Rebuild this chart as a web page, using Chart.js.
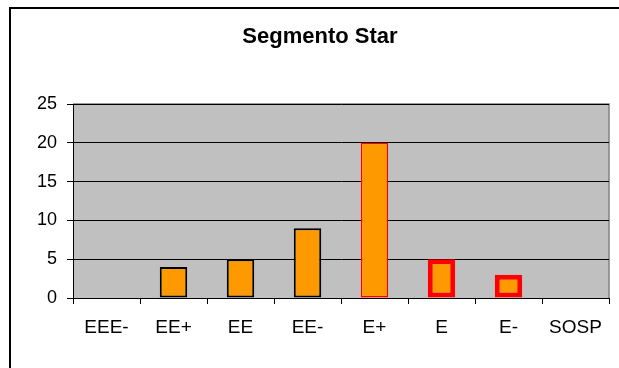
<!DOCTYPE html>
<html>
<head>
<meta charset="utf-8">
<script src="https://cdn.jsdelivr.net/npm/chart.js@4.4.1/dist/chart.umd.min.js"></script>
<style>
    html, body { margin: 0; padding: 0; background: #fff; }
    #wrap { position: relative; width: 619px; height: 368px; }
</style>
</head>
<body>
<div id="wrap"><canvas id="chart" width="619" height="368"></canvas></div>
<script>
// Chart data
const categories = ['EEE-', 'EE+', 'EE', 'EE-', 'E+', 'E', 'E-', 'SOSP'];
const values = [0, 4, 5, 9, 20, 5, 3, 0];
const barBorderColors = ['#000000', '#000000', '#000000', '#000000', '#ff0000', '#ff0000', '#ff0000', '#000000'];
const barBorderWidths = [2, 2, 2, 2, 1.5, 5, 5, 2];
const yTicks = [0, 5, 10, 15, 20, 25];

// Grey plot background, grey top/right edge and the outer frame
const framePlugin = {
    id: 'framePlugin',
    beforeDraw(chart) {
        const { ctx, chartArea } = chart;
        ctx.save();
        ctx.fillStyle = '#c0c0c0';
        ctx.fillRect(chartArea.left, chartArea.top, chartArea.right - chartArea.left, chartArea.bottom - chartArea.top);
        ctx.strokeStyle = '#808080';
        ctx.lineWidth = 1.5;
        ctx.beginPath();
        ctx.moveTo(chartArea.left, chartArea.top);
        ctx.lineTo(chartArea.right, chartArea.top);
        ctx.lineTo(chartArea.right, chartArea.bottom);
        ctx.stroke();
        ctx.restore();
    },
    afterDraw(chart) {
        const ctx = chart.ctx;
        ctx.save();
        ctx.fillStyle = '#000';
        ctx.fillRect(9, 7, 610, 2);
        ctx.fillRect(9, 7, 2, 361);
        ctx.restore();
    }
};

const ctx = document.getElementById('chart').getContext('2d');
new Chart(ctx, {
    type: 'bar',
    data: {
        labels: categories,
        datasets: [{
            data: values,
            backgroundColor: '#ff9900',
            borderColor: barBorderColors,
            borderWidth: barBorderWidths,
            borderSkipped: false,
            barPercentage: 0.41,
            categoryPercentage: 1
        }]
    },
    options: {
        responsive: false,
        animation: false,
        layout: { padding: { left: 31, right: 10, top: 0, bottom: 0 } },
        plugins: {
            legend: { display: false },
            tooltip: { enabled: false },
            title: {
                display: true,
                text: 'Segmento Star',
                color: '#000',
                font: { family: 'Liberation Sans, Arial, sans-serif', size: 22, weight: 'bold' },
                padding: { top: 24, bottom: 53.6 }
            }
        },
        scales: {
            x: {
                offset: true,
                grid: { offset: true, drawOnChartArea: false, color: '#000', tickLength: 6 },
                border: { color: '#000', width: 1 },
                ticks: {
                    color: '#000',
                    padding: 12,
                    maxRotation: 0,
                    font: { family: 'Liberation Sans, Arial, sans-serif', size: 19 }
                },
                afterFit(scale) { scale.height = 70; }
            },
            y: {
                min: 0,
                max: 25,
                grid: { color: '#000', tickLength: 6 },
                border: { color: '#000', width: 1 },
                ticks: {
                    color: '#000',
                    padding: 10,
                    stepSize: 5,
                    font: { family: 'Liberation Sans, Arial, sans-serif', size: 18 }
                },
                afterBuildTicks(scale) { scale.ticks = yTicks.map(v => ({ value: v })); },
                afterFit(scale) { scale.width = 42; }
            }
        }
    },
    plugins: [framePlugin]
});
</script>
</body>
</html>
